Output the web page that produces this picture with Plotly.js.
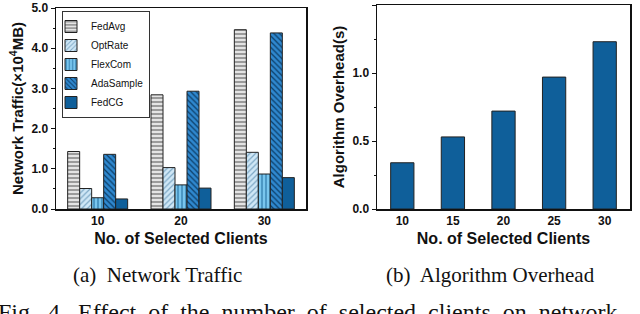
<!DOCTYPE html>
<html><head><meta charset="utf-8">
<script src="https://cdn.plot.ly/plotly-3.0.1.min.js"></script>
<style>html,body{margin:0;padding:0;background:#fff}#c{width:640px;height:314px}</style>
</head><body><div id="c"></div>
<script>
const groups = ['10','20','30'];
const seriesNames = ['FedAvg','OptRate','FlexCom','AdaSample','FedCG'];
const fedAvg = [1.43, 2.84, 4.46];
const optRate = [0.51, 1.03, 1.41];
const flexCom = [0.28, 0.60, 0.87];
const adaSample = [1.36, 2.93, 4.38];
const fedCG = [0.25, 0.52, 0.78];
const overheadClients = ['10','15','20','25','30'];
const overhead = [0.34, 0.53, 0.72, 0.97, 1.23];

const seriesVals = [fedAvg, optRate, flexCom, adaSample, fedCG];
const styles = [
  {bg:'#e4e4e4', fg:'#6a6a6a', shape:'-'},
  {bg:'#cfe7f6', fg:'#7fa9c6', shape:'/'},
  {bg:'#79c6ee', fg:'#2c78a8', shape:'|'},
  {bg:'#2f88cf', fg:'#0c3d66', shape:'\\'},
  {bg:'#0f5f9a', fg:'#0f5f9a', shape:''}
];
const traces = seriesNames.map((n,i)=>({
  type:'bar', name:n, x:groups, y:seriesVals[i], xaxis:'x', yaxis:'y',
  marker:{color:styles[i].bg, line:{color:'#222', width:1},
    pattern:{shape:styles[i].shape, fgcolor:styles[i].fg, bgcolor:styles[i].bg, size:4, solidity:0.3}}
}));
traces.push({type:'bar', name:'overhead', x:overheadClients, y:overhead, xaxis:'x2', yaxis:'y2',
  showlegend:false, width:0.46, marker:{color:'#0f5f9a', line:{color:'#222', width:1}}});

const tickFont = {family:'Liberation Sans, Arial', size:12, color:'#111', weight:'bold'};
const titleFont = {family:'Liberation Sans, Arial', size:16, color:'#111', weight:'bold'};
const axBase = {showline:true, linecolor:'#111', linewidth:1.5, mirror:true, showgrid:false, zeroline:false,
  tickfont:tickFont, ticks:'outside', tickcolor:'#111', automargin:false};
const serif = 'Liberation Serif, Times New Roman';
const NB = '\u00A0';
const figText = ['Fig.', '4.', 'Effect', 'of', 'the', 'number', 'of', 'selected', 'clients', 'on', 'network'].join(NB+' ');

const layout = {
  width:640, height:314, margin:{l:0,r:0,t:0,b:0}, paper_bgcolor:'#fff', plot_bgcolor:'#fff',
  barmode:'group', bargap:0.28, bargroupgap:0,
  showlegend:true,
  legend:{x:62/640, y:(314-11)/314, xanchor:'left', yanchor:'top', bordercolor:'#333', borderwidth:1,
    bgcolor:'#fff', font:{family:'Liberation Sans, Arial', size:10, color:'#111'}, tracegroupgap:0, itemwidth:30, indentation:-12},
  xaxis:Object.assign({}, axBase, {domain:[56/640, 306/640], anchor:'y', type:'category', range:[-0.5,2.5],
    ticks:'', ticklen:0, title:{text:'No. of Selected Clients', font:titleFont, standoff:6}}),
  yaxis:Object.assign({}, axBase, {domain:[(314-209)/314, (314-8)/314], anchor:'x', range:[0,5], dtick:1,
    tickformat:'.1f', ticklen:4, minor:{dtick:0.5, ticks:'outside', ticklen:2, tickcolor:'#111'},
    title:{text:'Network Traffic(×10<sup>4</sup>MB)', font:{family:'Liberation Sans, Arial', size:15, color:'#111', weight:'bold'}, standoff:4}}),
  xaxis2:Object.assign({}, axBase, {domain:[377/640, 630/640], anchor:'y2', type:'category', range:[-0.5,4.5],
    ticks:'', ticklen:0, title:{text:'No. of Selected Clients', font:titleFont, standoff:6}}),
  yaxis2:Object.assign({}, axBase, {domain:[(314-209)/314, (314-5)/314], anchor:'x2', range:[0,1.5], dtick:0.5,
    tickformat:'.1f', ticklen:4, minor:{dtick:0.25, ticks:'outside', ticklen:2, tickcolor:'#111'},
    title:{text:'Algorithm Overhead(s)', font:{family:'Liberation Sans, Arial', size:15, color:'#111', weight:'bold'}, standoff:4}}),
  annotations:[
    {text:'(a)'+NB+' Network Traffic', xref:'paper', yref:'paper', x:157/640, y:(314-275)/314, xanchor:'center', yanchor:'middle',
      showarrow:false, font:{family:serif, size:21, color:'#111'}},
    {text:'(b)'+NB+' Algorithm Overhead', xref:'paper', yref:'paper', x:490/640, y:(314-275)/314, xanchor:'center', yanchor:'middle',
      showarrow:false, font:{family:serif, size:21, color:'#111'}},
    {text:figText, xref:'paper', yref:'paper', x:-4/640, y:(314-297)/314,
      xanchor:'left', yanchor:'top', showarrow:false, font:{family:serif, size:24, color:'#111'}}
  ]
};
Plotly.newPlot('c', traces, layout, {displayModeBar:false, staticPlot:true});
</script></body></html>
